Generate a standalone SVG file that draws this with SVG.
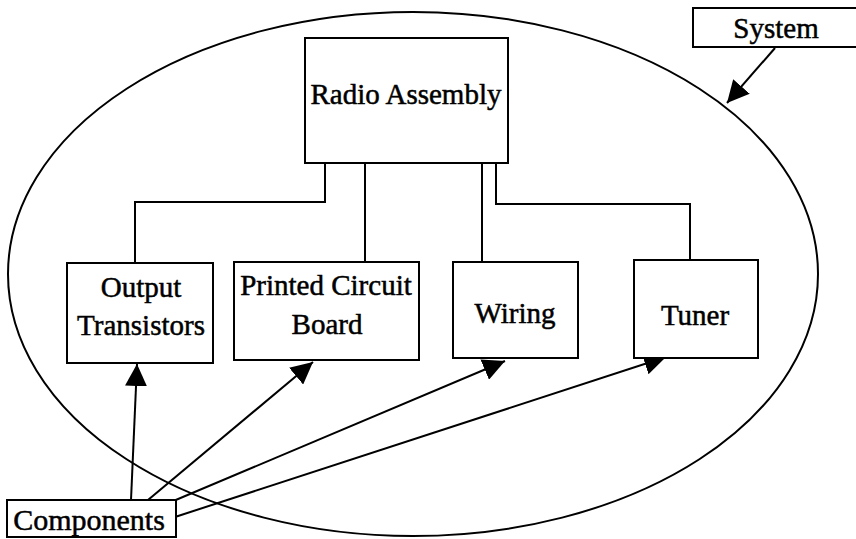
<svg xmlns="http://www.w3.org/2000/svg" width="856" height="539" viewBox="0 0 856 539">
<style>
.box{fill:#fff;stroke:#000;stroke-width:2}
.ln{fill:none;stroke:#000;stroke-width:2}
.t{font-family:"Liberation Serif","Times New Roman",serif;font-size:29px;fill:#000;stroke:#000;stroke-width:0.5;text-anchor:middle}
</style>
<defs>
<marker id="ah" markerUnits="userSpaceOnUse" markerWidth="24" markerHeight="22" refX="22" refY="11" orient="auto">
<path d="M0,0 L22,11 L0,22 Z" fill="#000"/>
</marker>
</defs>
<rect width="856" height="539" fill="#fff"/>
<ellipse cx="413" cy="274" rx="405" ry="262" class="ln"/>
<g id="connectors">
<path class="ln" d="M325,163 V202 H135 V263"/>
<path class="ln" d="M365,163 V262"/>
<path class="ln" d="M482,163 V262"/>
<path class="ln" d="M496,163 V204 H690 V259"/>
<path class="ln" d="M131,500 L137,364" marker-end="url(#ah)"/>
<path class="ln" d="M148,500 L313,362" marker-end="url(#ah)"/>
<path class="ln" d="M171,502 L505,361" marker-end="url(#ah)"/>
<path class="ln" d="M175,517 L666,357" marker-end="url(#ah)"/>
<path class="ln" d="M775,48 L727,103" marker-end="url(#ah)"/>
</g>
<g id="radio"><rect class="box" x="305" y="38" width="203" height="125"/><text class="t" x="406" y="104">Radio Assembly</text></g>
<g id="output"><rect class="box" x="67" y="263" width="146" height="100"/><text class="t" x="141" y="297">Output</text><text class="t" x="141" y="335">Transistors</text></g>
<g id="pcb"><rect class="box" x="234" y="262" width="185" height="98"/><text class="t" x="326" y="295">Printed Circuit</text><text class="t" x="327" y="334">Board</text></g>
<g id="wiring"><rect class="box" x="453" y="262" width="125" height="96"/><text class="t" x="515" y="323">Wiring</text></g>
<g id="tuner"><rect class="box" x="634" y="260" width="124" height="98"/><text class="t" x="695" y="325">Tuner</text></g>
<g id="components"><rect class="box" x="7" y="500" width="169" height="37"/><text class="t" x="89" y="530" style="font-size:30px">Components</text></g>
<g id="system"><rect class="box" x="693" y="8" width="170" height="39"/><text class="t" x="776" y="38">System</text></g>
</svg>
